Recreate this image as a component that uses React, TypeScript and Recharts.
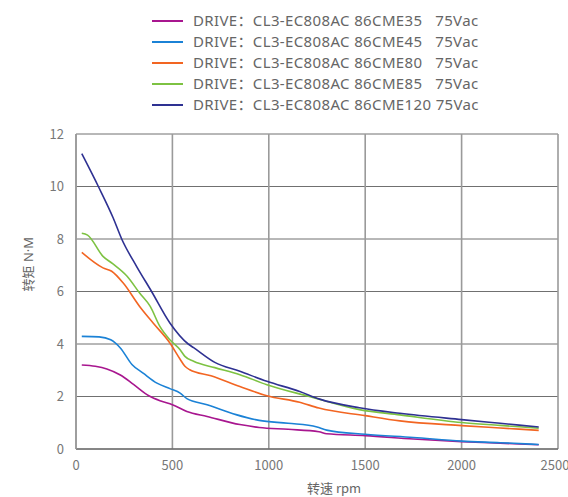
import React from 'react';
import { LineChart, Line, XAxis, YAxis, CartesianGrid, Legend } from 'recharts';

const xTicks = [0, 500, 1000, 1500, 2000, 2500];
const yTicks = [0, 2, 4, 6, 8, 10, 12];

const rpm35 = [30, 100, 160, 230, 300, 380, 440, 500, 575, 680, 850, 950, 1100, 1260, 1300, 1500, 1750, 2000, 2200, 2400];
const torque35 = [3.2, 3.15, 3.05, 2.82, 2.45, 2.02, 1.83, 1.69, 1.43, 1.24, 0.93, 0.82, 0.75, 0.66, 0.58, 0.51, 0.38, 0.28, 0.22, 0.16];

const rpm45 = [30, 120, 180, 230, 290, 350, 420, 490, 540, 575, 680, 830, 950, 1100, 1250, 1300, 1500, 1750, 2000, 2200, 2400];
const torque45 = [4.29, 4.27, 4.16, 3.85, 3.22, 2.88, 2.51, 2.29, 2.13, 1.92, 1.69, 1.31, 1.09, 0.98, 0.84, 0.72, 0.56, 0.44, 0.3, 0.24, 0.17];

const rpm80 = [30, 140, 185, 245, 330, 400, 487, 540, 565, 590, 700, 850, 990, 1160, 1260, 1500, 1680, 2000, 2200, 2400];
const torque80 = [7.49, 6.9, 6.77, 6.32, 5.43, 4.8, 4.04, 3.42, 3.15, 3.02, 2.79, 2.38, 2.03, 1.78, 1.56, 1.27, 1.07, 0.89, 0.8, 0.71];

const rpm85 = [30, 60, 140, 190, 265, 330, 385, 435, 487, 540, 565, 610, 720, 850, 990, 1210, 1470, 1680, 2000, 2200, 2400];
const torque85 = [8.22, 8.15, 7.34, 7.06, 6.58, 5.94, 5.43, 4.67, 4.16, 3.78, 3.53, 3.34, 3.1, 2.83, 2.45, 2.0, 1.5, 1.3, 1.01, 0.9, 0.79];

const rpm120 = [30, 116, 193, 237, 314, 392, 487, 582, 610, 720, 850, 990, 1160, 1264, 1470, 1680, 2000, 2200, 2400];
const torque120 = [11.25, 10.0, 8.8, 8.0, 6.96, 6.0, 4.8, 4.0, 3.86, 3.3, 2.96, 2.58, 2.19, 1.9, 1.57, 1.36, 1.12, 0.98, 0.84];

const names = [
  'DRIVE：CL3-EC808AC 86CME35   75Vac',
  'DRIVE：CL3-EC808AC 86CME45   75Vac',
  'DRIVE：CL3-EC808AC 86CME80   75Vac',
  'DRIVE：CL3-EC808AC 86CME85   75Vac',
  'DRIVE：CL3-EC808AC 86CME120 75Vac',
];
const colors = ['#a8168f', '#1b82d6', '#f26522', '#7dc242', '#2e3192'];

const zip = (xs: number[], ys: number[]) => xs.map((x, i) => ({ rpm: x, torque: ys[i] }));

const series = [
  { name: names[0], color: colors[0], data: zip(rpm35, torque35) },
  { name: names[1], color: colors[1], data: zip(rpm45, torque45) },
  { name: names[2], color: colors[2], data: zip(rpm80, torque80) },
  { name: names[3], color: colors[3], data: zip(rpm85, torque85) },
  { name: names[4], color: colors[4], data: zip(rpm120, torque120) },
];

const FONT = '"Noto Sans CJK SC", "Noto Sans", sans-serif';
const LABEL_FONT = '"Noto Sans", "Noto Sans CJK SC", sans-serif';

const LegendContent = () => (
  <div style={{ fontFamily: LABEL_FONT, fontSize: 15, letterSpacing: '0.36px', color: '#666' }}>
    {series.map((s) => (
      <div key={s.name} style={{ display: 'flex', alignItems: 'center', height: 21, whiteSpace: 'pre' }}>
        <svg width={31} height={4} style={{ display: 'block', flex: 'none' }}>
          <line x1={0} y1={2} x2={31} y2={2} stroke={s.color} strokeWidth={2} />
        </svg>
        <span style={{ marginLeft: 10, lineHeight: '21px' }}>{s.name}</span>
      </div>
    ))}
  </div>
);

export default function App() {
  return (
    <div style={{ position: 'absolute', left: 0, top: 0, width: 568, height: 497, background: '#fff' }}>
      <LineChart
        width={568}
        height={497}
        margin={{ top: 134, right: 10, bottom: 0, left: 26 }}
        style={{ fontFamily: FONT }}
      >
        <CartesianGrid horizontal={true} vertical={false} stroke="#707070" strokeWidth={1} />
        <CartesianGrid horizontal={false} vertical={true} stroke="#9a9a9a" strokeWidth={1.6} />
        <XAxis
          dataKey="rpm"
          type="number"
          domain={[0, 2500]}
          ticks={xTicks}
          allowDataOverflow
          height={48}
          tickLine={false}
          tickMargin={6}
          axisLine={{ stroke: '#555', strokeWidth: 1.2 }}
          tick={{ fill: '#777', fontSize: 13 }}
          label={{ value: '转速 rpm', position: 'insideBottom', offset: 4, dx: 17, fill: '#666', fontSize: 13 }}
        />
        <YAxis
          type="number"
          domain={[0, 12]}
          ticks={yTicks}
          width={50}
          tickLine={false}
          tickMargin={6}
          axisLine={{ stroke: '#9a9a9a', strokeWidth: 1.6 }}
          tick={{ fill: '#777', fontSize: 13 }}
          label={{ value: '转矩 N·M', angle: -90, position: 'insideLeft', offset: 2, fill: '#666', fontSize: 13, fontFamily: LABEL_FONT }}
        />
        <Legend
          layout="vertical"
          align="center"
          verticalAlign="middle"
          content={<LegendContent />}
          wrapperStyle={{ top: 10, left: 152, width: 'auto' }}
        />
        {series.map((s) => (
          <Line
            key={s.name}
            data={s.data}
            dataKey="torque"
            name={s.name}
            type="monotone"
            stroke={s.color}
            strokeWidth={1.6}
            dot={false}
            activeDot={false}
            isAnimationActive={false}
          />
        ))}
      </LineChart>
    </div>
  );
}
